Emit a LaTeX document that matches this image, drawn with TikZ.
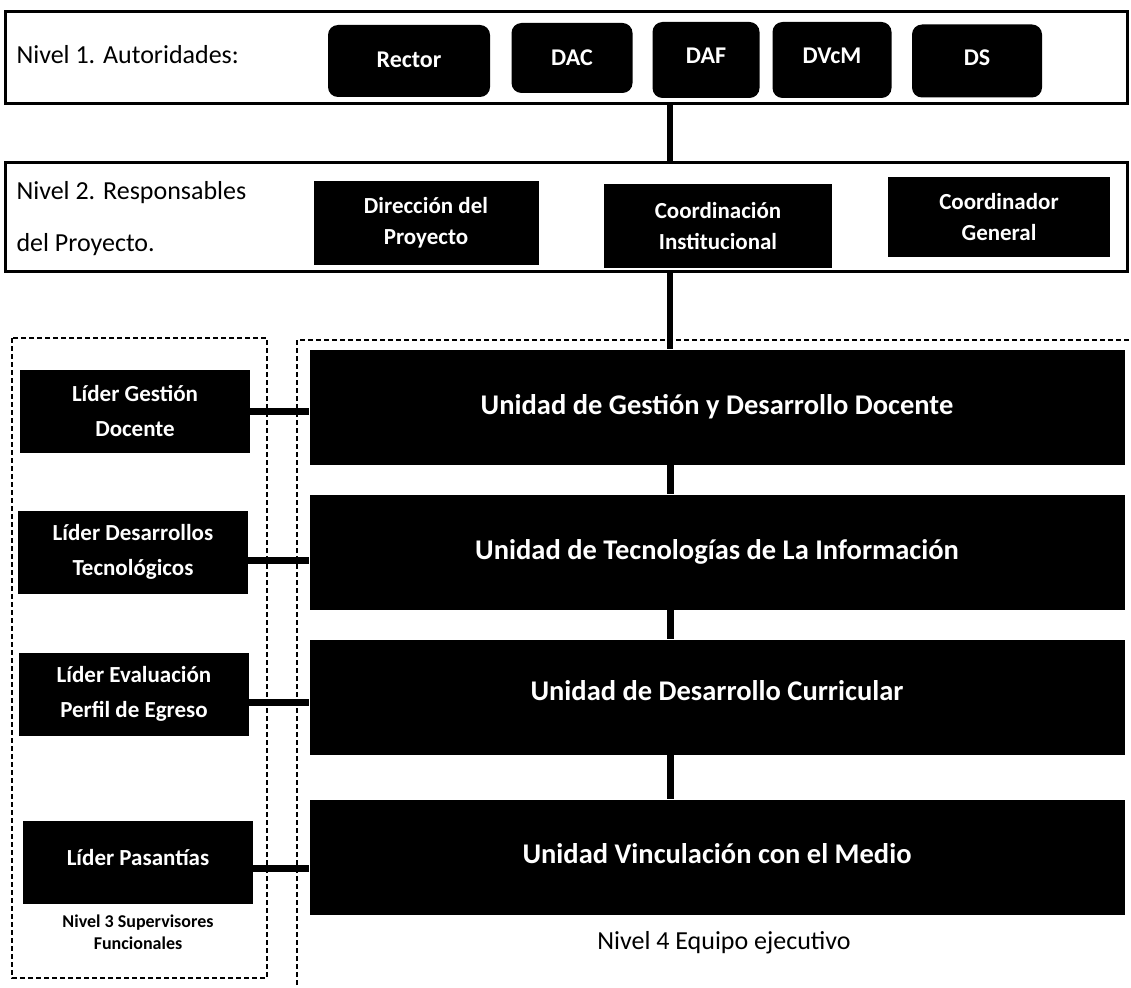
\documentclass[tikz,border=0pt]{standalone}
\usepackage{fontspec}
\setmainfont{Carlito}
\tikzset{
  nivel/.style={draw=black, line width=3pt},
  autoridad/.style={fill=black, rounded corners=10pt, text=white, font=\fontsize{24}{28}\selectfont\bfseries, inner sep=0pt},
  responsable/.style={fill=black, text=white, align=center, font=\fontsize{23}{31}\selectfont\bfseries, minimum height=84pt, inner sep=0pt},
  lider/.style={fill=black, text=white, align=center, font=\fontsize{23}{35}\selectfont\bfseries, minimum width=230pt, minimum height=83pt, inner sep=0pt},
  unidad/.style={fill=black, text=white, font=\fontsize{28.5}{32}\selectfont\bfseries, minimum width=815pt, minimum height=115pt, inner sep=0pt},
  enlace/.style={line width=7pt},
  marco/.style={dash pattern=on 5pt off 3pt, line width=1.5pt}
}
\begin{document}
\begin{tikzpicture}[x=1pt,y=-1pt]
\useasboundingbox (0,0) rectangle (1131,987);
%%% Nivel 1: autoridades
\node[nivel, minimum width=1122pt, minimum height=92pt, inner sep=0pt] (nivel1) at (566,58) {};
\node[anchor=west, font=\fontsize{26}{30}\selectfont] (tit1) at (13,55) {Nivel 1. Autoridades:};
\node[autoridad, minimum width=162pt, minimum height=72pt] (rector) at (409,61) {\raisebox{3pt}{Rector}};
\node[autoridad, minimum width=121pt, minimum height=70pt] (dac) at (572,58) {DAC};
\node[autoridad, minimum width=107pt, minimum height=76pt] (daf) at (706,60) {\raisebox{8pt}{DAF}};
\node[autoridad, minimum width=119pt, minimum height=76pt] (dvcm) at (832,60) {\raisebox{8pt}{DVcM}};
\node[autoridad, minimum width=130pt, minimum height=73pt] (ds) at (977,61) {\raisebox{6pt}{DS}};
%%% Nivel 2: responsables del proyecto
\node[nivel, minimum width=1122pt, minimum height=109pt, inner sep=0pt] (nivel2) at (566,217) {};
\node[anchor=west, align=left, font=\fontsize{26}{52}\selectfont] (tit2) at (13,219) {Nivel 2. Responsables\\del Proyecto.};
\node[responsable, minimum width=225pt] (direccion) at (426,223) {Dirección del\\Proyecto};
\node[responsable, minimum width=228pt] (coordinst) at (718,226) {Coordinación\\Institucional};
\node[responsable, minimum width=222pt, minimum height=80pt] (coordgen) at (999,217) {Coordinador\\General};
%%% eje vertical de los enlaces
\coordinate (eje) at (670,0);
\draw[enlace, line width=6pt] (nivel1.south -| eje) -- (nivel2.north -| eje);
%%% Marcos punteados de niveles 3 y 4
\draw[marco] (12,338) rectangle (267,978);
\draw[marco] (297,985) -- (297,340) -- (1131,340);
%%% Nivel 4: unidades
\node[unidad] (ugdd) at (717,407) {Unidad de Gestión y Desarrollo Docente};
\node[unidad] (uti) at (717,552) {Unidad de Tecnologías de La Información};
\node[unidad] (udc) at (717,697) {\raisebox{14pt}{Unidad de Desarrollo Curricular}};
\node[unidad] (uvm) at (717,857) {\raisebox{8pt}{Unidad Vinculación con el Medio}};
\draw[enlace, line width=6pt] (nivel2.south -| eje) -- (ugdd.north -| eje);
\draw[enlace] (ugdd.south -| eje) -- (uti.north -| eje);
\draw[enlace] (uti.south -| eje) -- (udc.north -| eje);
\draw[enlace] (udc.south -| eje) -- (uvm.north -| eje);
\node[font=\fontsize{26}{30}\selectfont] (tit4) at (724,943) {Nivel 4 Equipo ejecutivo};
%%% Nivel 3: supervisores funcionales
\node[lider] (lgd) at (135,411) {Líder Gestión\\Docente};
\node[lider] (ldt) at (133,552) {Líder Desarrollos\\Tecnológicos};
\node[lider] (lep) at (134,694) {Líder Evaluación\\Perfil de Egreso};
\node[lider] (lp) at (138,862) {\raisebox{9pt}{Líder Pasantías}};
\draw[enlace] (lgd.east) -- (lgd.east -| ugdd.west);
\draw[enlace] ([yshift=-8pt]ldt.east) -- ([yshift=-8pt]ldt.east -| uti.west);
\draw[enlace] ([yshift=-8pt]lep.east) -- ([yshift=-8pt]lep.east -| udc.west);
\draw[enlace] ([yshift=-6pt]lp.east) -- ([yshift=-6pt]lp.east -| uvm.west);
\node[align=center, font=\fontsize{18}{22}\selectfont\bfseries] (tit3) at (138,932) {Nivel 3 Supervisores\\Funcionales};
\end{tikzpicture}
\end{document}
